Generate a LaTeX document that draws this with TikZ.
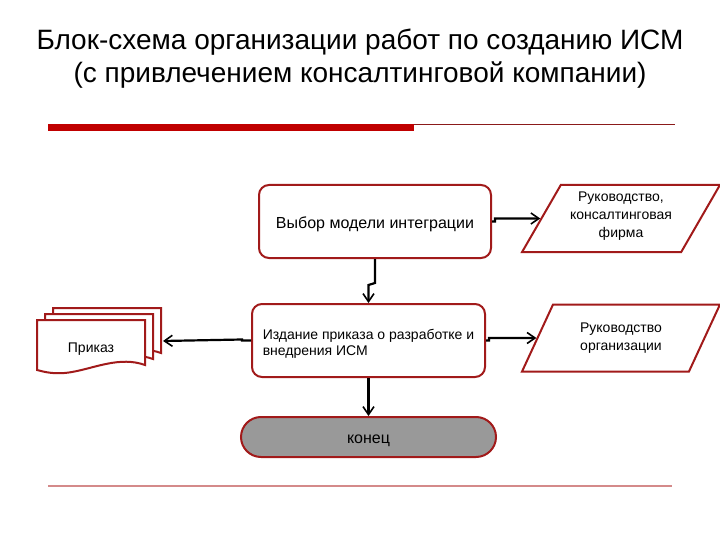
\documentclass[tikz,border=0pt]{standalone}
\usepackage{fontspec}
\setmainfont{Liberation Sans}
\usetikzlibrary{arrows.meta,shapes.geometric}
\definecolor{bordred}{HTML}{A11A1A}
\definecolor{barred}{HTML}{C00000}
\definecolor{thinred}{HTML}{8B1A1A}
\definecolor{lowred}{HTML}{D48A8A}
\definecolor{termgray}{HTML}{999999}
\newcommand{\shiftv}[2]{\raisebox{#1}[\height][\depth]{#2}}
\tikzset{
  box/.style={draw=bordred, line width=2pt, rounded corners=10pt, fill=white},
  para/.style={draw=bordred, line width=2pt, trapezium, trapezium left angle=59, trapezium right angle=121, trapezium stretches=true, minimum width=198pt, minimum height=67pt, inner sep=0pt, align=center, font=\fontsize{14}{18.5}\selectfont},
  term/.style={draw=bordred, line width=2pt, fill=termgray, rounded corners=20pt, font=\fontsize{16}{18}\selectfont},
  conn/.style={draw=black, line width=2.2pt, -{Straight Barb[length=8pt,width=11pt,line width=1.6pt]}},
  docshape/.style={draw=bordred, line width=2pt, fill=white},
}
\begin{document}
\begin{tikzpicture}[x=1pt,y=-1pt]
\useasboundingbox (0,0) rectangle (720,540);
% title
\node[font=\fontsize{28}{33}\selectfont, align=center] (title) at (360,59) {Блок-схема организации работ по созданию ИСМ\\(с привлечением консалтинговой компании)};
% decorative lines
\fill[barred] (48,124) rectangle (414,131);
\draw[thinred, line width=1pt] (414,124.5) -- (675,124.5);
\draw[lowred, line width=1.4pt] (48,486) -- (672,486);
% boxes
\node[box, minimum width=232pt, minimum height=73pt, font=\fontsize{16}{18}\selectfont] (b1) at (375,221.5) {\shiftv{-3pt}{Выбор модели интеграции}};
\node[box, minimum width=233pt, minimum height=73pt, font=\fontsize{14}{17}\selectfont] (b2) at (368.5,340.5) {\shiftv{-4pt}{\begin{tabular}{@{}l@{}}Издание приказа о разработке и\\[-1pt]внедрения ИСМ\end{tabular}}};
\node[para] (p1) at (621,218.5) {\shiftv{3pt}{\begin{tabular}{@{}c@{}}Руководство,\\[-0.5pt]консалтинговая\\[-0.5pt]фирма\end{tabular}}};
\node[para] (p2) at (621,338) {Руководство\\организации};
\node[term, minimum width=255pt, minimum height=40pt] (t) at (368.5,437) {\shiftv{-4pt}{конец}};
% document stack
\foreach \dx/\dy in {16/-12, 8/-6, 0/0}{
  \draw[docshape] (37+\dx,320+\dy) -- (145+\dx,320+\dy) -- (145+\dx,365+\dy)
    .. controls (120+\dx,356+\dy) and (95+\dx,368+\dy) .. (72+\dx,372+\dy)
    .. controls (55+\dx,375+\dy) and (45+\dx,372+\dy) .. (37+\dx,370+\dy) -- cycle;
}
\node[font=\fontsize{14}{16}\selectfont] (doc) at (91,349) {Приказ};
\coordinate (docin) at (163,341);
% connectors
\draw[conn] (b1.south) -- ++(0,24) -- ++(-6.5,2) -- (b2.north);
\draw[conn] (b1.east) -- ++(3,0) -- ++(0,-3) -- (p1.west);
\draw[conn] (b2.east) -- ++(3,0) -- ++(0,-2.5) -- (p2.west);
\draw[conn] (b2.west) -- ++(-9,0) -- ++(0,-1) -- (docin);
\draw[conn] (b2.south) -- (t.north);
\end{tikzpicture}
\end{document}
